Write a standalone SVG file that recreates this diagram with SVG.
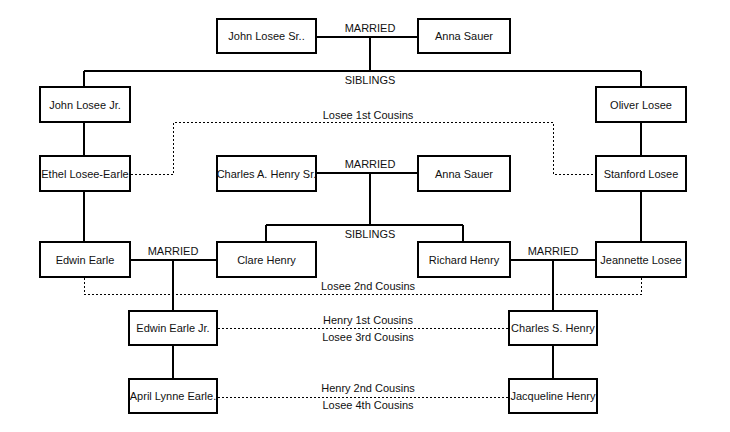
<svg xmlns="http://www.w3.org/2000/svg" width="730" height="432" viewBox="0 0 730 432">
<style>
.box{fill:#fff;stroke:#000;stroke-width:2}
.t{font-family:"Liberation Sans",Arial,sans-serif;font-size:11px;fill:#111;text-anchor:middle;dominant-baseline:central}
.ln{fill:none;stroke:#000;stroke-width:2}
.dot{fill:none;stroke:#000;stroke-width:1;stroke-dasharray:2 2;shape-rendering:crispEdges}
</style>
<rect width="730" height="432" fill="#fff"/>
<g id="connectors">
<path class="ln" d="M316 37H418M370 37V71M84 71H641M84 71V87M641 71V87"/>
<path class="ln" d="M84 122V156M84 191V242M641 122V156M641 191V242"/>
<path class="ln" d="M316 173H418M370 173V225M266 225H463M266 225V242M463 225V242"/>
<path class="ln" d="M130 260H217M173 260V311M510 260H596M553 260V311"/>
<path class="ln" d="M173 345V379M553 345V379"/>
<path class="dot" d="M131 174.5H173.5V122.5H553.5V174.5H595"/>
<path class="dot" d="M84.5 278V294.5H641.5V278"/>
<path class="dot" d="M218 328.5H508M218 397.5H508"/>
<text class="t" x="370" y="28">MARRIED</text>
<text class="t" x="370" y="80">SIBLINGS</text>
<text class="t" x="368" y="115">Losee 1st Cousins</text>
<text class="t" x="370" y="164">MARRIED</text>
<text class="t" x="370" y="234">SIBLINGS</text>
<text class="t" x="173" y="251">MARRIED</text>
<text class="t" x="553" y="251">MARRIED</text>
<text class="t" x="368" y="286">Losee 2nd Cousins</text>
<text class="t" x="368" y="320">Henry 1st Cousins</text>
<text class="t" x="368" y="337">Losee 3rd Cousins</text>
<text class="t" x="368" y="388">Henry 2nd Cousins</text>
<text class="t" x="368" y="405">Losee 4th Cousins</text>
</g>
<g id="john-losee-sr"><rect class="box" x="217" y="19" width="99" height="34"/><text class="t" x="266.5" y="36">John Losee Sr..</text></g>
<g id="anna-sauer-1"><rect class="box" x="418" y="19" width="92" height="34"/><text class="t" x="464" y="36">Anna Sauer</text></g>
<g id="john-losee-jr"><rect class="box" x="40" y="87" width="90" height="35"/><text class="t" x="85" y="104.5">John Losee Jr.</text></g>
<g id="oliver-losee"><rect class="box" x="596" y="87" width="90" height="35"/><text class="t" x="641" y="104.5">Oliver Losee</text></g>
<g id="ethel-losee-earle"><rect class="box" x="40" y="156" width="90" height="35"/><text class="t" x="85" y="173.5">Ethel Losee-Earle</text></g>
<g id="charles-a-henry-sr"><rect class="box" x="217" y="156" width="99" height="35"/><text class="t" x="266.5" y="173.5">Charles A. Henry Sr.</text></g>
<g id="anna-sauer-2"><rect class="box" x="418" y="156" width="92" height="35"/><text class="t" x="464" y="173.5">Anna Sauer</text></g>
<g id="stanford-losee"><rect class="box" x="596" y="156" width="90" height="35"/><text class="t" x="641" y="173.5">Stanford Losee</text></g>
<g id="edwin-earle"><rect class="box" x="40" y="242" width="90" height="35"/><text class="t" x="85" y="259.5">Edwin Earle</text></g>
<g id="clare-henry"><rect class="box" x="217" y="242" width="99" height="35"/><text class="t" x="266.5" y="259.5">Clare Henry</text></g>
<g id="richard-henry"><rect class="box" x="418" y="242" width="92" height="35"/><text class="t" x="464" y="259.5">Richard Henry</text></g>
<g id="jeannette-losee"><rect class="box" x="596" y="242" width="90" height="35"/><text class="t" x="641" y="259.5">Jeannette Losee</text></g>
<g id="edwin-earle-jr"><rect class="box" x="129" y="311" width="88" height="34"/><text class="t" x="173" y="328">Edwin Earle Jr.</text></g>
<g id="charles-s-henry"><rect class="box" x="509" y="311" width="88" height="34"/><text class="t" x="553" y="328">Charles S. Henry</text></g>
<g id="april-lynne-earle"><rect class="box" x="129" y="379" width="88" height="34"/><text class="t" x="173" y="396">April Lynne Earle.</text></g>
<g id="jacqueline-henry"><rect class="box" x="509" y="379" width="88" height="34"/><text class="t" x="553" y="396">Jacqueline Henry</text></g>
</svg>
